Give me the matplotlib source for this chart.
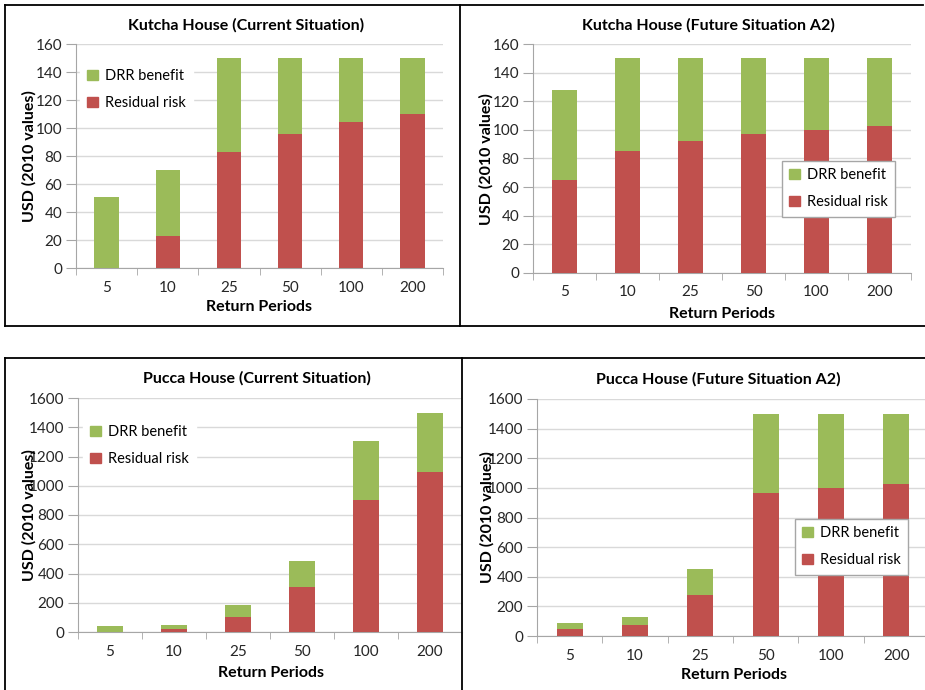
import matplotlib
matplotlib.use("Agg")
import matplotlib.pyplot as plt
from matplotlib.lines import Line2D
from matplotlib.patches import Patch
import numpy as np

plt.rcParams['font.family'] = ['Lato', 'DejaVu Sans']

periods = ["5", "10", "25", "50", "100", "200"]

# Kutcha house, current situation
kutcha_cur_resid = [0, 23, 83, 96, 104, 110]
kutcha_cur_total = [51, 70, 150, 150, 150, 150]
# Kutcha house, future A2
kutcha_fut_resid = [65, 85, 92, 97, 100, 103]
kutcha_fut_total = [128, 150, 150, 150, 150, 150]
# Pucca house, current situation
pucca_cur_resid = [0, 20, 100, 310, 900, 1097]
pucca_cur_total = [38, 50, 182, 483, 1305, 1500]
# Pucca house, future A2
pucca_fut_resid = [47, 72, 279, 968, 1000, 1027]
pucca_fut_total = [90, 128, 455, 1500, 1500, 1500]

GREEN = "#9BBB59"
RED = "#C0504D"
W, H = 925, 690


def px(x, y):
    # pixel (from top-left) -> figure fraction
    return x / W, 1 - y / H


def rect(l, t, r, b):
    x0, y1 = px(l, t)
    x1, y0 = px(r, b)
    return [x0, y0, x1 - x0, y1 - y0]


fig = plt.figure(figsize=(9.25, 6.9), dpi=100)

panels = [
    dict(title="Kutcha House (Current Situation)", resid=kutcha_cur_resid, total=kutcha_cur_total,
         ax=(76, 44, 443, 268), ymax=160, step=20, t=(246, 25), xl=(259, 307), yl=(29, 156),
         leg=(80, 62), frame=False),
    dict(title="Kutcha House (Future Situation A2)", resid=kutcha_fut_resid, total=kutcha_fut_total,
         ax=(533, 44, 911, 273), ymax=160, step=20, t=(708, 25), xl=(722, 314), yl=(486, 159),
         leg=(782, 161), frame=True),
    dict(title="Pucca House (Current Situation)", resid=pucca_cur_resid, total=pucca_cur_total,
         ax=(78, 398, 462, 632), ymax=1600, step=200, t=(257, 378), xl=(271, 673), yl=(29, 515),
         leg=(83, 418), frame=False),
    dict(title="Pucca House (Future Situation A2)", resid=pucca_fut_resid, total=pucca_fut_total,
         ax=(537, 399, 929, 636), ymax=1600, step=200, t=(718, 379), xl=(734, 675), yl=(487, 517),
         leg=(795, 519), frame=True),
]

for p in panels:
    ax = fig.add_axes(rect(*p["ax"]))
    x = np.arange(len(periods))
    resid = np.array(p["resid"])
    benefit = np.array(p["total"]) - resid
    ax.bar(x, resid, width=0.4, color=RED, zorder=3)
    ax.bar(x, benefit, width=0.4, bottom=resid, color=GREEN, zorder=3)
    ax.set_xlim(-0.5, len(periods) - 0.5)
    ax.set_ylim(0, p["ymax"])
    ax.set_yticks(np.arange(0, p["ymax"] + 1, p["step"]))
    ax.set_xticks(x)
    ax.set_xticklabels(periods)
    ax.set_xticks(np.arange(-0.5, len(periods)), minor=True)
    ax.tick_params(axis='x', which='major', length=0, pad=9, labelsize=11, colors='#262626')
    ax.tick_params(axis='x', which='minor', length=5, color='#A6A6A6', direction='out')
    ax.tick_params(axis='y', length=7, color='#A6A6A6', pad=3, labelsize=11, labelcolor='#262626')
    ax.grid(axis='y', color='#D9D9D9', linewidth=1, zorder=0)
    ax.set_axisbelow(True)
    for s in ['top', 'right']:
        ax.spines[s].set_visible(False)
    for s in ['left', 'bottom']:
        ax.spines[s].set_color('#A6A6A6')

    fig.text(*px(*p["t"]), p["title"], ha='center', va='center', fontsize=11.5, fontweight='bold')
    fig.text(*px(*p["xl"]), "Return Periods", ha='center', va='center', fontsize=11.5, fontweight='bold')
    fig.text(*px(*p["yl"]), "USD (2010 values)", ha='center', va='center', rotation=90,
             fontsize=11.5, fontweight='bold')

    handles = [Patch(color=GREEN, label="DRR benefit"), Patch(color=RED, label="Residual risk")]
    leg = ax.legend(handles=handles, loc='upper left', bbox_to_anchor=px(*p["leg"]),
                    bbox_transform=fig.transFigure, fontsize=10.5, handlelength=0.7,
                    handleheight=0.7, handletextpad=0.5, labelspacing=0.9, borderpad=0.5,
                    fancybox=False, framealpha=1, borderaxespad=0)
    leg.get_frame().set_linewidth(1)
    leg.get_frame().set_edgecolor('#A6A6A6' if p["frame"] else 'white')
    leg.set_zorder(5)

# panel frames
frame_lines = [
    ((5, 5), (923, 5)), ((5, 5), (5, 326)), ((5, 326), (925, 326)), ((460, 5), (460, 326)),
    ((5, 358), (925, 358)), ((5, 358), (5, 690)), ((462, 358), (462, 690)),
]
for (xa, ya), (xb, yb) in frame_lines:
    (fx0, fy0), (fx1, fy1) = px(xa, ya), px(xb, yb)
    fig.add_artist(Line2D([fx0, fx1], [fy0, fy1], transform=fig.transFigure, color='black',
                          linewidth=1.3))

fig.savefig("out.png", dpi=100)
